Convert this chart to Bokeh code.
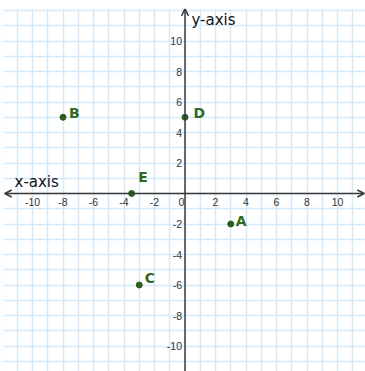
from bokeh.plotting import figure
from bokeh.models import Range1d, FixedTicker, Grid, Arrow, OpenHead, ColumnDataSource
from bokeh.core.properties import value
from bokeh.embed import file_html
from bokeh.resources import INLINE

# ---- data ----
point_names = ["A", "B", "C", "D", "E"]
point_x = [3, -8, -3, 0, -3.5]
point_y = [-2, 5, -6, 5, 0]
x_tick_values = [-10, -8, -6, -4, -2, 2, 4, 6, 8, 10]
y_tick_values = [10, 8, 6, 4, 2, -2, -4, -6, -8, -10]
grid_values = list(range(-12, 13))
x_axis_title = "x-axis"
y_axis_title = "y-axis"
origin_label = "0"

# ---- layout / style ----
W, H = 365, 371
BL, BT = 3, 8                  # white strips left / top
FW, FH = W - BL, H - BT        # frame size
SCALE = 15.25                  # px per unit
OX, OY = 181.5, 185            # origin inside frame (from left / from top)
GREEN_PT = "#2b5d20"
GREEN_TXT = "#2f6a22"
AXIS_COLOR = "#3a3a3a"
TICK_COLOR = "#333333"
GRID_COLOR = "#d4eafa"
label_dx = [5, 6, 5.5, 8.5, 6.5]
label_dy = [-3.5, -4.5, -7, -4.5, -17]

x_range = Range1d(-OX / SCALE, (FW - OX) / SCALE)
y_range = Range1d(-(FH - OY) / SCALE, OY / SCALE)

p = figure(width=W, height=H, x_range=x_range, y_range=y_range,
           output_backend="svg", toolbar_location=None,
           x_axis_location=None, y_axis_location=None,
           min_border_left=BL, min_border_top=BT, min_border_right=0, min_border_bottom=0,
           outline_line_color=None,
           background_fill_color="white", border_fill_color="white")
p.center = []
for dim in (0, 1):
    p.add_layout(Grid(dimension=dim, ticker=FixedTicker(ticks=grid_values),
                      grid_line_color=GRID_COLOR, grid_line_width=1.5))

# axes with arrows
p.add_layout(Arrow(start=OpenHead(size=7, line_width=1.5, line_color=AXIS_COLOR),
                   end=OpenHead(size=7, line_width=1.5, line_color=AXIS_COLOR),
                   x_start=x_range.start + 0.08, y_start=0,
                   x_end=x_range.end - 0.08, y_end=0,
                   line_width=1.5, line_color=AXIS_COLOR))
p.add_layout(Arrow(end=OpenHead(size=7, line_width=1.5, line_color=AXIS_COLOR),
                   x_start=0, y_start=y_range.start,
                   x_end=0, y_end=y_range.end - 0.03,
                   line_width=1.5, line_color=AXIS_COLOR))

tick_font = value("Liberation Sans")
# x tick labels
p.text(x=x_tick_values, y=[0] * len(x_tick_values), text=[str(v) for v in x_tick_values],
       text_align="center", text_baseline="middle", y_offset=8,
       text_font=tick_font, text_font_size="10.5px", text_color=TICK_COLOR)
# origin label
p.text(x=[0], y=[0], text=[origin_label], text_align="center", text_baseline="middle",
       x_offset=-3.5, y_offset=8, text_font=tick_font, text_font_size="10.5px",
       text_color=TICK_COLOR)
# y tick labels
p.text(x=[0] * len(y_tick_values), y=y_tick_values, text=[str(v) for v in y_tick_values],
       text_align="right", text_baseline="middle", x_offset=-3,
       text_font=tick_font, text_font_size="10.5px", text_color=TICK_COLOR)

# axis titles
title_font = value("DejaVu Sans")
p.text(x=[0], y=[y_range.end], text=[y_axis_title], text_align="left", text_baseline="middle",
       x_offset=6.5, y_offset=11, text_font=title_font, text_font_size="15px",
       text_color="#111111")
p.text(x=[x_range.start], y=[0], text=[x_axis_title], text_align="left", text_baseline="middle",
       x_offset=11, y_offset=-11.5, text_font=title_font, text_font_size="15px",
       text_color="#111111")

# points
src = ColumnDataSource(dict(x=point_x, y=point_y, name=point_names, dx=label_dx, dy=label_dy))
p.scatter("x", "y", source=src, size=6, color=GREEN_PT)
p.text(x="x", y="y", text="name", source=src, x_offset="dx", y_offset="dy",
       text_align="left", text_baseline="middle", text_font=value("DejaVu Sans"),
       text_font_style="bold", text_font_size="14px", text_color=GREEN_TXT)

open("out.html", "w").write(file_html(p, INLINE))
